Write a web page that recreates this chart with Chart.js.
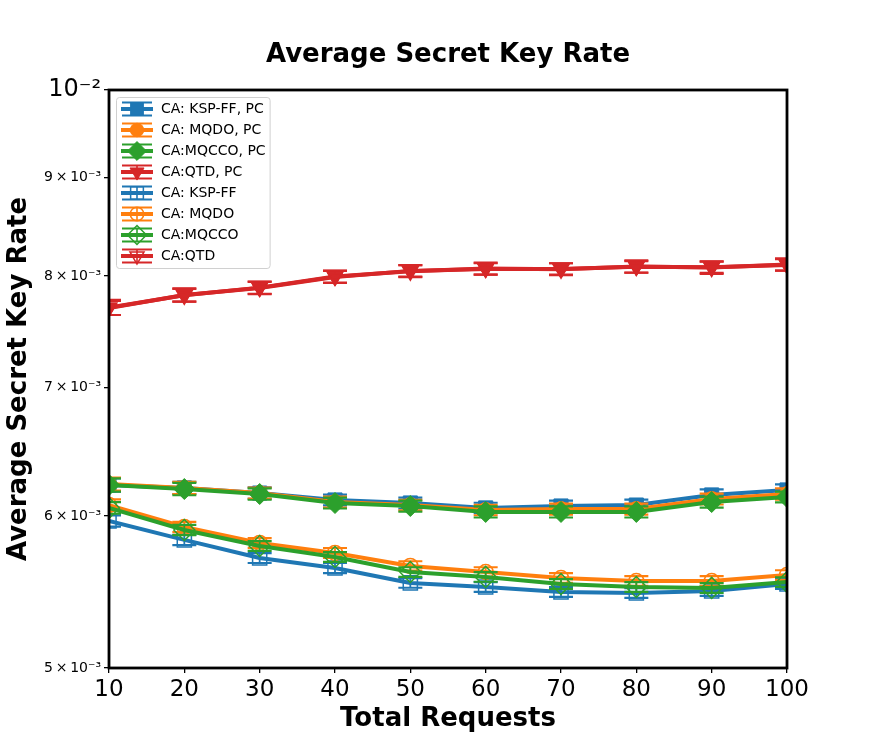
<!DOCTYPE html>
<html>
<head>
<meta charset="utf-8">
<script src="https://cdn.jsdelivr.net/npm/chart.js@4/dist/chart.umd.min.js"></script>
<style>
html,body{margin:0;padding:0;background:#ffffff;}
#wrap{width:875px;height:750px;}
</style>
</head>
<body>
<div id="wrap"><canvas id="c" width="875" height="750"></canvas></div>
<script>
// ---------------- data ----------------
const totalRequests = [10, 20, 30, 40, 50, 60, 70, 80, 90, 100];

const kspffPC = [0.006227, 0.006205, 0.006167, 0.006116, 0.006094, 0.006058, 0.006072, 0.006079, 0.006153, 0.006190];
const mqdoPC  = [0.006234, 0.006205, 0.006167, 0.006101, 0.006079, 0.006043, 0.006050, 0.006050, 0.006123, 0.006160];
const mqccoPC = [0.006227, 0.006197, 0.006160, 0.006094, 0.006072, 0.006029, 0.006029, 0.006029, 0.006101, 0.006138];
const qtdPC   = [0.007700, 0.007821, 0.007887, 0.007992, 0.008050, 0.008069, 0.008069, 0.008089, 0.008085, 0.008108];
const kspff   = [0.005964, 0.005830, 0.005705, 0.005637, 0.005537, 0.005510, 0.005477, 0.005471, 0.005484, 0.005530];
const mqdo    = [0.006079, 0.005921, 0.005809, 0.005740, 0.005651, 0.005610, 0.005570, 0.005550, 0.005550, 0.005590];
const mqcco   = [0.006058, 0.005900, 0.005788, 0.005712, 0.005610, 0.005577, 0.005530, 0.005510, 0.005504, 0.005543];
const qtd     = [0.007705, 0.007818, 0.007890, 0.007995, 0.008047, 0.008072, 0.008066, 0.008092, 0.008082, 0.008112];

const kspffPCErr = [0.000050, 0.000045, 0.000042, 0.000040, 0.000040, 0.000038, 0.000040, 0.000040, 0.000042, 0.000042];
const mqdoPCErr  = [0.000048, 0.000045, 0.000040, 0.000040, 0.000038, 0.000038, 0.000040, 0.000040, 0.000040, 0.000042];
const mqccoPCErr = [0.000050, 0.000046, 0.000042, 0.000040, 0.000040, 0.000040, 0.000040, 0.000040, 0.000040, 0.000040];
const qtdPCErr   = [0.000065, 0.000062, 0.000058, 0.000058, 0.000055, 0.000055, 0.000055, 0.000055, 0.000055, 0.000055];
const kspffErr   = [0.000040, 0.000036, 0.000034, 0.000034, 0.000032, 0.000032, 0.000032, 0.000032, 0.000032, 0.000032];
const mqdoErr    = [0.000042, 0.000036, 0.000034, 0.000034, 0.000032, 0.000032, 0.000032, 0.000032, 0.000032, 0.000032];
const mqccoErr   = [0.000042, 0.000036, 0.000034, 0.000034, 0.000032, 0.000032, 0.000032, 0.000032, 0.000032, 0.000032];
const qtdErr     = [0.000070, 0.000060, 0.000058, 0.000058, 0.000058, 0.000058, 0.000058, 0.000060, 0.000060, 0.000060];

const seriesNames = ['CA: KSP-FF, PC', 'CA: MQDO, PC', 'CA:MQCCO, PC', 'CA:QTD, PC',
                     'CA: KSP-FF', 'CA: MQDO', 'CA:MQCCO', 'CA:QTD'];
const seriesValues = [kspffPC, mqdoPC, mqccoPC, qtdPC, kspff, mqdo, mqcco, qtd];
const seriesErrors = [kspffPCErr, mqdoPCErr, mqccoPCErr, qtdPCErr, kspffErr, mqdoErr, mqccoErr, qtdErr];

const yTickValues = [0.005, 0.006, 0.007, 0.008, 0.009, 0.01];
const yTickLabels = ['5\u2009×\u200910⁻³', '6\u2009×\u200910⁻³', '7\u2009×\u200910⁻³', '8\u2009×\u200910⁻³', '9\u2009×\u200910⁻³', '10⁻²'];

// ---------------- styles ----------------
const FONT = "'DejaVu Sans', 'Liberation Sans', sans-serif";
const colors = ['#1f77b4', '#ff7f0e', '#2ca02c', '#d62728', '#1f77b4', '#ff7f0e', '#2ca02c', '#d62728'];
const markerStyles = ['rect', 'circle', 'rectRot', 'triangle', 'rect', 'circle', 'rectRot', 'triangle'];
const markerRadius = { rect: 10, circle: 7.5, rectRot: 10.5, triangle: 9 };
const markerRotation = { rect: 0, circle: 0, rectRot: 0, triangle: 180 };
const filled = [true, true, true, true, false, false, false, false];

function makeHandle(i) {
  const cv = document.createElement('canvas');
  cv.width = 32; cv.height = 22;
  const g = cv.getContext('2d');
  const cy = 11, col = colors[i];
  g.strokeStyle = col;
  g.lineWidth = 4;
  g.beginPath(); g.moveTo(0, cy); g.lineTo(32, cy); g.stroke();
  g.lineWidth = 1.6;
  g.beginPath(); g.moveTo(16, cy - 6.5); g.lineTo(16, cy + 6.5); g.stroke();
  g.lineWidth = 2;
  g.beginPath(); g.moveTo(1, cy - 6.5); g.lineTo(31, cy - 6.5); g.moveTo(1, cy + 6.5); g.lineTo(31, cy + 6.5); g.stroke();
  const st = markerStyles[i];
  g.fillStyle = filled[i] ? col : 'rgba(0,0,0,0)';
  g.strokeStyle = col;
  g.lineWidth = filled[i] ? 1 : 1.5;
  Chart.helpers.drawPoint(g, { pointStyle: st, radius: markerRadius[st] * 0.9, rotation: markerRotation[st], borderWidth: g.lineWidth }, 16, cy);
  return cv;
}

const datasets = seriesNames.map((name, i) => {
  const st = markerStyles[i];
  return {
    label: name,
    data: totalRequests.map((x, k) => ({ x: x, y: seriesValues[i][k] })),
    errors: seriesErrors[i],
    borderColor: colors[i],
    backgroundColor: colors[i],
    borderWidth: 4,
    borderJoinStyle: 'round',
    tension: 0,
    pointStyle: st,
    pointRadius: markerRadius[st],
    pointRotation: markerRotation[st],
    pointBackgroundColor: filled[i] ? colors[i] : 'rgba(0,0,0,0)',
    pointBorderColor: colors[i],
    pointBorderWidth: filled[i] ? 1 : 1.5,
    pointHoverRadius: markerRadius[st],
    clip: 0,
    order: seriesNames.length - 1 - i
  };
});

// ---------------- plugins ----------------
const errorBarPlugin = {
  id: 'errorBars',
  beforeDatasetDraw(chart, args) {
    const ds = chart.data.datasets[args.index];
    if (!ds.errors) return;
    const ys = chart.scales.y, ca = chart.chartArea, ctx = chart.ctx;
    ctx.save();
    ctx.beginPath();
    ctx.rect(ca.left, ca.top, ca.right - ca.left, ca.bottom - ca.top);
    ctx.clip();
    ctx.strokeStyle = ds.borderColor;
    args.meta.data.forEach((pt, k) => {
      const v = ds.data[k].y, e = ds.errors[k];
      const yt = ys.getPixelForValue(v + e), yb = ys.getPixelForValue(v - e);
      const x = pt.x;
      ctx.lineWidth = 1.8;
      ctx.beginPath(); ctx.moveTo(x, yt); ctx.lineTo(x, yb); ctx.stroke();
      ctx.lineWidth = 2.2;
      ctx.beginPath();
      ctx.moveTo(x - 12, yt); ctx.lineTo(x + 12, yt);
      ctx.moveTo(x - 12, yb); ctx.lineTo(x + 12, yb);
      ctx.stroke();
    });
    ctx.restore();
  }
};

const legendPlacePlugin = {
  id: 'legendPlace',
  afterLayout(chart) {
    const l = chart.legend, ca = chart.chartArea;
    if (!l) return;
    const w = l.width;
    l.left = ca.left + 4;
    l.top = ca.top + 5;
    l.right = l.left + w;
    l.bottom = ca.bottom;
  },
  beforeDraw(chart) {
    const l = chart.legend;
    if (!l) return;
    const ctx = chart.ctx;
    const n = chart.data.datasets.length;
    const x = l.left + 3, y = l.top + 2, w = l.width - 9, h = n * 21 + 3;
    ctx.save();
    ctx.fillStyle = 'rgba(255,255,255,0.8)';
    ctx.strokeStyle = '#d0d0d0';
    ctx.lineWidth = 1;
    ctx.beginPath();
    if (ctx.roundRect) ctx.roundRect(x + 0.5, y + 0.5, w, h, 3); else ctx.rect(x + 0.5, y + 0.5, w, h);
    ctx.fill();
    ctx.stroke();
    ctx.restore();
  }
};

const framePlugin = {
  id: 'frame',
  afterDraw(chart) {
    const ca = chart.chartArea, ctx = chart.ctx;
    ctx.save();
    ctx.strokeStyle = '#000';
    ctx.lineWidth = 2.8;
    ctx.strokeRect(ca.left, ca.top, ca.right - ca.left, ca.bottom - ca.top);
    ctx.restore();
  }
};

// ---------------- chart ----------------
new Chart(document.getElementById('c'), {
  type: 'line',
  data: { datasets: datasets },
  options: {
    responsive: false,
    animation: false,
    events: [],
    layout: { padding: { left: 0, right: 88, top: 0, bottom: 0 } },
    plugins: {
      title: {
        display: true,
        fullSize: false,
        text: 'Average Secret Key Rate',
        color: '#000',
        font: { family: FONT, size: 26, weight: 'bold' },
        padding: { top: 40, bottom: 18.8 }
      },
      legend: {
        display: true,
        position: 'chartArea',
        align: 'start',
        labels: {
          usePointStyle: true,
          pointStyleWidth: 34,
          padding: 7,
          color: '#000',
          font: { family: FONT, size: 14 },
          generateLabels(chart) {
            return chart.data.datasets.map((ds, i) => ({
              text: ds.label,
              fontColor: '#000',
              pointStyle: makeHandle(i),
              hidden: false,
              datasetIndex: i,
              lineWidth: 0,
              strokeStyle: colors[i],
              fillStyle: colors[i]
            }));
          }
        }
      },
      tooltip: { enabled: false }
    },
    scales: {
      x: {
        type: 'linear',
        min: 10,
        max: 100,
        afterBuildTicks(scale) { scale.ticks = totalRequests.map(v => ({ value: v })); },
        afterFit(scale) { scale.height = 82; },
        ticks: {
          color: '#000',
          font: { family: FONT, size: 23 },
          padding: 3,
          maxRotation: 0,
          autoSkip: false
        },
        grid: { display: true, drawOnChartArea: false, drawTicks: true, tickLength: 5, color: '#000', lineWidth: 1.3 },
        border: { display: false },
        title: {
          display: true,
          text: 'Total Requests',
          color: '#000',
          font: { family: FONT, size: 26, weight: 'bold' },
          padding: { top: 0, bottom: 15 }
        }
      },
      y: {
        type: 'logarithmic',
        min: 0.005,
        max: 0.01,
        afterBuildTicks(scale) { scale.ticks = yTickValues.map(v => ({ value: v })); },
        afterFit(scale) { scale.width = 109; },
        ticks: {
          color: '#000',
          autoSkip: false,
          padding: 3,
          font(ctx) {
            const v = ctx.tick ? ctx.tick.value : 0;
            return Math.abs(v - 0.01) < 1e-9 ? { family: FONT, size: 24 } : { family: FONT, size: 14 };
          },
          callback(value, index) { return yTickLabels[index]; }
        },
        grid: { display: true, drawOnChartArea: false, drawTicks: true, tickLength: 5, color: '#000', lineWidth: 1.3 },
        border: { display: false },
        title: {
          display: true,
          text: 'Average Secret Key Rate',
          color: '#000',
          font: { family: FONT, size: 26, weight: 'bold' },
          padding: { top: 4, bottom: 0 }
        }
      }
    }
  },
  plugins: [errorBarPlugin, legendPlacePlugin, framePlugin]
});
</script>
</body>
</html>
